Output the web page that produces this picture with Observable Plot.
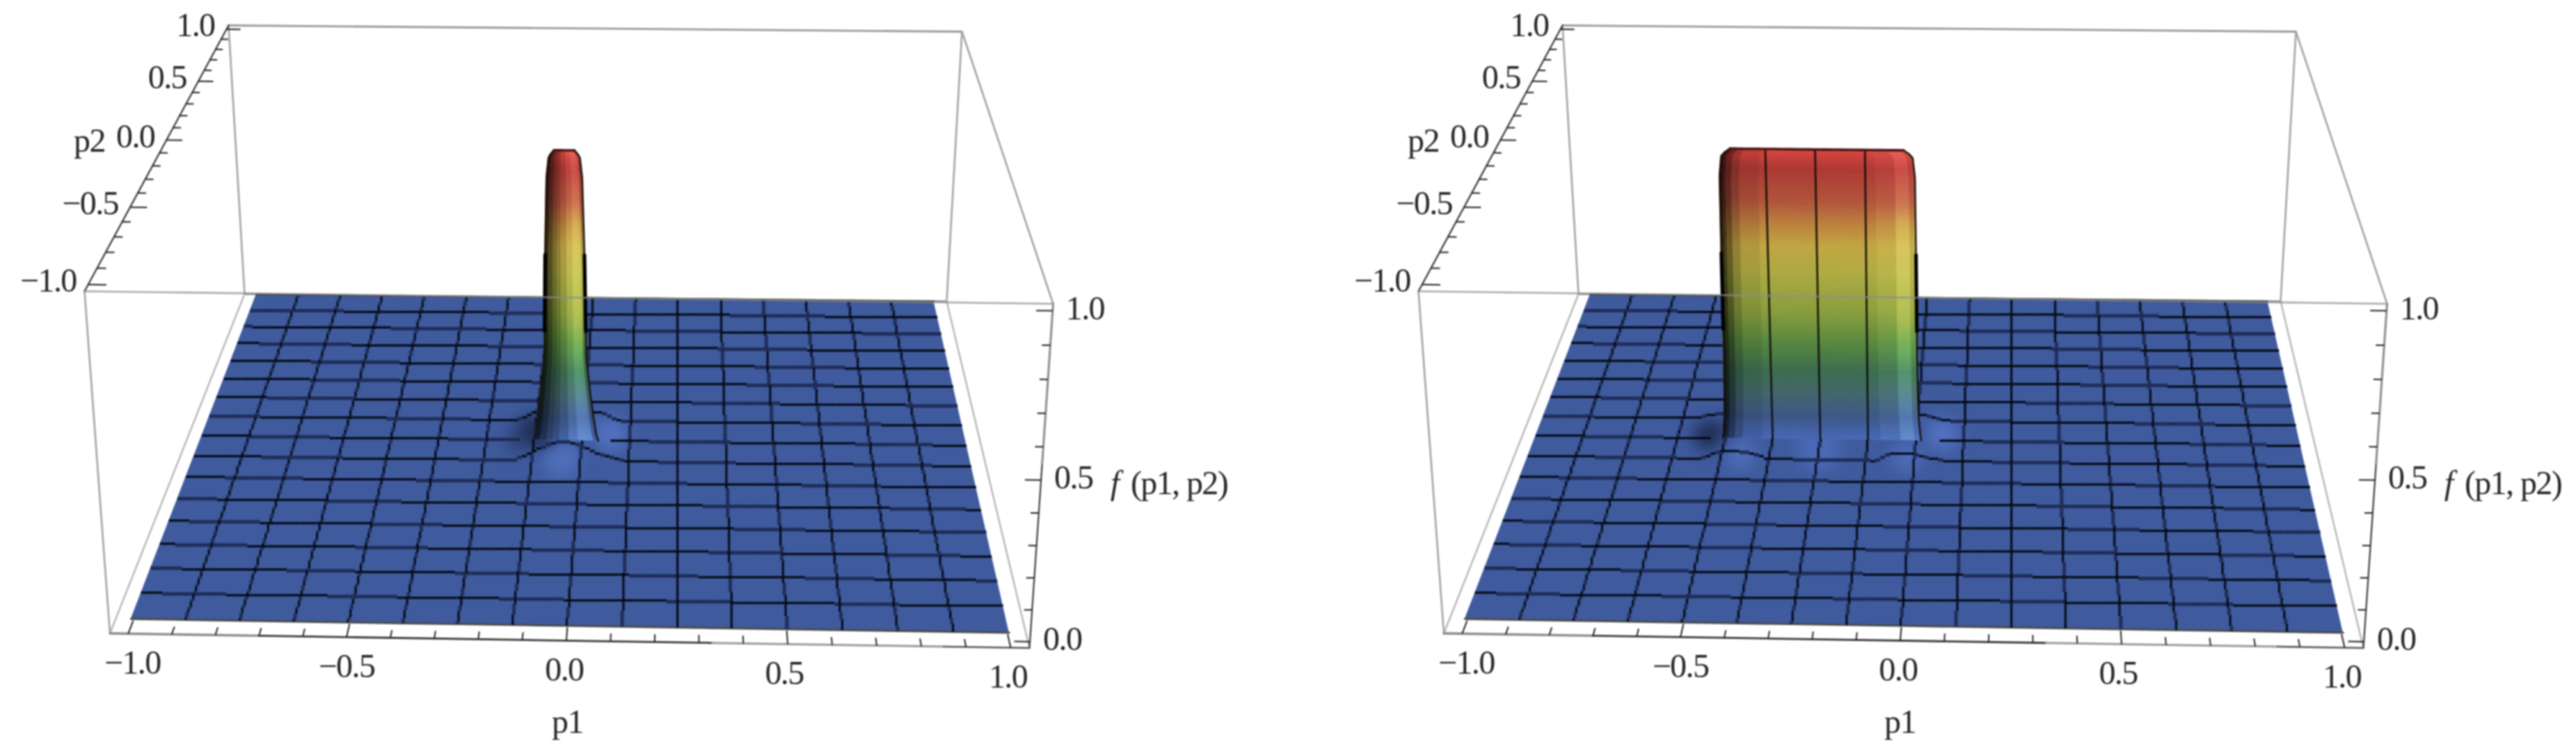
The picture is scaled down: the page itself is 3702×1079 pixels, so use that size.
<!DOCTYPE html>
<html><head><meta charset="utf-8">
<script src="https://cdn.jsdelivr.net/npm/d3@7"></script>
<script src="https://cdn.jsdelivr.net/npm/@observablehq/plot@0.6"></script>
<style>
html,body{margin:0;padding:0;background:#fff;overflow:hidden}
#chart{display:flex;width:3702px;height:1079px}
#chart svg{display:block;filter:blur(0.8px);overflow:hidden}
#chart svg text{letter-spacing:-1.6px}
g[aria-label="dot"]{filter:blur(11px)}
</style></head><body><div id="chart"></div>
<script>
// ---- tick values and labels
const p1Ticks = [-1,-0.9,-0.8,-0.7,-0.6,-0.5,-0.4,-0.3,-0.2,-0.1,0,0.1,0.2,0.3,0.4,0.5,0.6,0.7,0.8,0.9,1];
const p2Ticks = p1Ticks;
const zTicks = [0,0.1,0.2,0.3,0.4,0.5,0.6,0.7,0.8,0.9,1];
const p1Labels = [[-1,"−1.0",6],[-0.5,"−0.5",0],[0,"0.0",-3],[0.5,"0.5",-5],[1,"1.0",-4]];
const p2Labels = [[-1,"−1.0"],[-0.5,"−0.5"],[0,"0.0"],[0.5,"0.5"],[1,"1.0"]];
const zLabels = [[0,"0.0"],[0.5,"0.5"],[1,"1.0"]];
// ---- mesh positions: 15 interior lines per side
const meshValues = [-1,-0.875,-0.75,-0.625,-0.5,-0.375,-0.25,-0.125,0,0.125,0.25,0.375,0.5,0.625,0.75,0.875,1];
// ---- height colours read from the tall wall
const zStops = [0,0.075,0.157,0.24,0.34,0.45,0.58,0.67,0.745,0.82,0.93,0.985,1];
const wallColors = ["#4a6ab8","#3f5a8c","#46696f","#3e7050","#5c8c42","#8fa23f","#b3ae45","#c5aa45","#c0843f","#b5573d","#b03a36","#d8463f","#e04b47"];
// ---- wall silhouette: how far the edge leaves the nominal p1 limit at each height
const zEdge = [0,0.02,0.08,0.16,0.3,0.66,0.91,0.98,1];
const flareNarrow = [0.035,0.03,0.023,0.015,0.004,0,-0.005,-0.011,-0.024];
const flareWide = [0.012,0.01,0.006,0.004,0.002,0,-0.002,-0.008,-0.03];
// ---- side shading across the wall (fraction of width, alpha)
const shadeNarrow = {f:[0,0.1,0.2,0.3,0.4,0.55,0.7,0.85,0.93,1], dark:[0.8,0.65,0.45,0.3,0.2,0.05,0,0,0.1,0.35], light:[0,0,0,0,0,0.1,0.25,0.45,0.3,0]};
const shadeWide = {f:[0,0.015,0.03,0.06,0.1,0.2,0.5,0.8,0.9,0.97,1], dark:[0.85,0.75,0.6,0.35,0.15,0.05,0,0.03,0,0,0.2], light:[0,0,0,0,0,0,0,0,0.2,0.45,0]};
// ---- surface lift along the mesh rows next to the wall: [p1, f]
const narrowLift = {"-0.125":[[-0.17,0],[-0.118,0.034],[-0.071,0.063],[-0.04,0.07],[-0.01,0.06],[0.054,0.022],[0.12,0]],
                    "0.125":[[-0.175,0],[-0.125,0.03],[0.048,0.03],[0.098,0]]};
const wideLift = {"-0.125":[[-0.55,0],[-0.505,0.025],[-0.435,0.025],[-0.375,0],[-0.1,0],[-0.06,0.025],[0,0.025],[0.08,0]],
                  "0.125":[[-0.6,0],[-0.51,0.02],[0.03,0.02],[0.08,0]]};
// ---- soft light/dark patches on the floor: p1, p2, radius, colour, opacity
const narrowGlow = [[-0.05,-0.11,28,"#5676c8",0.7],[0.075,0.04,24,"#5878cc",0.75],[-0.13,0.06,24,"#1c2748",0.8],[-0.17,-0.01,18,"#2a3866",0.6],[-0.1,0.03,14,"#141c38",0.7]];
const wideGlow = [[-0.45,-0.1,22,"#5676c8",0.65],[-0.02,-0.1,22,"#5676c8",0.65],[-0.25,-0.06,32,"#4f6fc2",0.7],[0.07,0.04,24,"#5878cc",0.75],[-0.55,0.01,20,"#1c2748",0.8],[-0.53,0.05,14,"#141c38",0.6]];
// ---- box corners on screen for the lower and upper planes of the frame
const planeLow = [[157.5,909.5],[1479,930.5],[1360,432.5],[351,422]];
const planeHigh = [[121,418],[1513,436],[1382,45],[328,36]];
const padP1 = 1.042, padP2 = 1.04, zLow = -0.02, zHigh = 1.02, depthBias = 1.05, rasterStep = 3.7;

function quadMap(q){
  const [[x0,y0],[x1,y1],[x2,y2],[x3,y3]] = q;
  const sx=x0-x1+x2-x3, sy=y0-y1+y2-y3, dx1=x1-x2, dx2=x3-x2, dy1=y1-y2, dy2=y3-y2;
  const den=dx1*dy2-dx2*dy1, g=(sx*dy2-dx2*sy)/den, h=(dx1*sy-sx*dy1)/den;
  const a=x1-x0+g*x1, b=x3-x0+h*x3, c=x0, d=y1-y0+g*y1, e=y3-y0+h*y3, f=y0;
  return (u,v)=>{const w=g*u+h*v+1; return [(a*u+b*v+c)/w,(d*u+e*v+f)/w];};
}
const mapLow = quadMap(planeLow), mapHigh = quadMap(planeHigh);
function proj(p1,p2,z){
  const u=(p1+padP1)/(2*padP1), v=(p2+padP2)/(2*padP2);
  const n=(z-zLow)/(zHigh-zLow), t=n/(n+(1-n)*depthBias);
  const A=mapLow(u,v), B=mapHigh(u,v);
  return [A[0]+(B[0]-A[0])*t, A[1]+(B[1]-A[1])*t];
}
const liftFn = tbl => { if(!tbl) return ()=>0; return d3.scaleLinear(tbl.map(d=>d[0]),tbl.map(d=>d[1])).clamp(true); };

// one sampled 3D polyline, turned into raster-like flat segments
function rasterSegs(pts,horizontal){
  const black=[],navy=[];
  for(let i=0;i<pts.length-1;i++){
    const a=pts[i],b=pts[i+1];
    if(!a||!b) continue;
    const m=horizontal?(a[1]+b[1])/2:(a[0]+b[0])/2, v=m/rasterStep, r=Math.abs(v-Math.round(v));
    const mid=r>0.3, q=(mid?Math.floor(v)+0.5:Math.round(v))*rasterStep;
    const s=horizontal?{x1:a[0],x2:b[0],y1:q,y2:q}:{x1:q,x2:q,y1:a[1],y2:b[1]};
    (mid?navy:black).push(s);
  }
  return {black,navy};
}
const sampleP = d3.range(-1,1.0001,0.0125);
function meshMarks(rows,cols){
  const B=[],N=[];
  const add=s=>{B.push(...s.black);N.push(...s.navy);};
  rows.forEach(r=>add(rasterSegs(r,true)));
  cols.forEach(c=>add(rasterSegs(c,false)));
  return [
    Plot.link(N,{x1:"x1",y1:"y1",x2:"x2",y2:"y2",stroke:"#1f2c57",strokeWidth:5,strokeLinecap:"butt"}),
    Plot.link(B,{x1:"x1",y1:"y1",x2:"x2",y2:"y2",stroke:"#070b18",strokeWidth:3.3,strokeLinecap:"butt"})
  ];
}
const seg=(pts,stroke,w,op=1)=>Plot.line(pts,{x:d=>d[0],y:d=>d[1],stroke,strokeWidth:w,strokeOpacity:op});
const edge=(a,b,stroke,w=2.4,op=1)=>seg([proj(...a),proj(...b)],stroke,w,op);

function panel(cfg){
  const {width,wallL,wallR,wallP2,flare,shade,lifts,gaps,glow,wallMesh}=cfg;
  const flareFn=d3.scaleLinear(zEdge,flare);
  const wp=(f,z)=>{const e=flareFn(z);const L=wallL-e,R=wallR+e;return proj(L+(R-L)*f,wallP2,z);};
  const zs=d3.range(0,1.0001,0.0125);
  // floor
  const fl=[-1,1].map(p=>{const a=proj(p,-1,0),b=proj(p,1,0);return {x1:a[0],y1:a[1],x2:b[0],y2:b[1]};});
  // mesh
  const rowsBack=[],rowsFront=[],colsBack=[],colsFront=[];
  meshValues.slice(1,16).forEach(v=>{
    const lift=liftFn(lifts[String(v)]), gap=gaps[String(v)];
    const pts=sampleP.map(p=>(gap&&p>gap[0]&&p<gap[1])?null:proj(p,v,lift(p)));
    (v>=0?rowsBack:rowsFront).push(pts);
    const ps=sampleP.filter(q=>q<wallP2), pb=sampleP.filter(q=>q>=wallP2-0.0125);
    colsFront.push(ps.map(q=>proj(v,q,0)));
    colsBack.push(pb.map(q=>proj(v,q,0)));
  });
  // wall bands
  const bands=[];
  zs.slice(0,-1).forEach((z,i)=>{
    const z2=zs[i+1];
    const a=wp(0,z),b=wp(0,z2),c=wp(1,z),d=wp(1,z2);
    bands.push({id:i,c:z,x1:a[0],y1:a[1],x2:b[0],y2:b[1]},{id:i,c:z,x1:c[0],y1:c[1],x2:d[0],y2:d[1]});
  });
  const colMarks=[];
  shade.f.slice(0,-1).forEach((f,j)=>{
    const f2=shade.f[j+1];
    const strip=zs.map(z=>{const a=wp(f,z),b=wp(f2,z);return {x1:a[0],y1:a[1],x2:b[0],y2:b[1]};});
    const al=(shade.dark[j]+shade.dark[j+1])/2, lt=(shade.light[j]+shade.light[j+1])/2;
    if(al>0) colMarks.push(Plot.area(strip,{x1:"x1",y1:"y1",x2:"x2",y2:"y2",fill:"#000",fillOpacity:al}));
    if(lt>0) colMarks.push(Plot.area(strip,{x1:"x1",y1:"y1",x2:"x2",y2:"y2",fill:"#fff",fillOpacity:lt,mixBlendMode:"overlay"}));
  });
  const edgePts=f=>zs.map(z=>wp(f,z));
  const thick=f=>zs.filter(z=>z>0.38&&z<0.66).map(z=>wp(f,z));
  const topPts=d3.range(0,1.0001,0.05).map(f=>wp(f,1));
  const wallLines=wallMesh.map(p=>seg(zs.map(z=>proj(p,wallP2,z)),"#0d0d0a",2.8,0.9));

  // frame
  const X=padP1,Y=padP2;
  const gray="#a2a2a2";
  const back=[
    edge([-X,Y,zHigh],[X,Y,zHigh],"#999",2.8),
    edge([-X,Y,zHigh],[-X,Y,zLow],gray,2.6),
    edge([X,Y,zHigh],[X,Y,zLow],gray,2.6),
    edge([-X,Y,zLow],[X,Y,zLow],"#8a8a8a",2.4),
    edge([-X,-Y,zLow],[-X,Y,zLow],"#b5b5b5",2.4),
    edge([X,-Y,zLow],[X,Y,zLow],"#b5b5b5",2.4),
    edge([-X,-Y,zHigh],[-X,-Y,zLow],gray,2.6),
    edge([X,-Y,zHigh],[X,Y,zHigh],gray,2.6)
  ];
  const axesLines=[
    edge([-X,-Y,zHigh],[-X,Y,zHigh],"#333",2.2),
    edge([X,-Y,zLow],[X,-Y,0.55],"#3a3a3a",2.2),
    edge([X,-Y,0.55],[X,-Y,zHigh],"#8a8a8a",3),
    edge([-X,-Y,zLow],[-0.7,-Y,zLow],"#8a8a8a",3.4),
    edge([-0.7,-Y,zLow],[0.33,-Y,zLow],"#383838",2.8),
    edge([0.33,-Y,zLow],[0.85,-Y,zLow],"#999",3),
    edge([0.85,-Y,zLow],[X,-Y,zLow],"#555",2.6),
    edge([-X,-Y,zHigh],[X,-Y,zHigh],"#8c8c8c",2.6,0.75)
  ];
  // ticks
  const tk=[];
  const big=v=>Math.abs(v*2-Math.round(v*2))<1e-6;
  p1Ticks.forEach(v=>{const a=proj(v,-Y,zLow),b=proj(v,-Y+(big(v)?0.062:0.036),zLow);tk.push({x1:a[0],y1:a[1],x2:b[0],y2:b[1]});});
  p2Ticks.forEach(v=>{const a=proj(-X,v,zHigh),b=proj(-X+(big(v)?0.04:0.02),v,zHigh);tk.push({x1:a[0],y1:a[1],x2:b[0],y2:b[1]});});
  zTicks.forEach(v=>{const a=proj(X,-Y,v),b=proj(X-(big(v)?0.035:0.018),-Y,v);tk.push({x1:a[0],y1:a[1],x2:b[0],y2:b[1]});});
  // text
  const font={fontFamily:"'Liberation Serif',serif",fontSize:48,fill:"#262626"};
  const t1=p1Labels.map(([v,s,dx])=>{const a=proj(v,-Y,zLow);return {x:a[0]+dx,y:a[1]+42,s};});
  const t2=p2Labels.map(([v,s])=>{const a=proj(-X,v,zHigh);return {x:a[0]-17,y:a[1]-5,s};});
  const t3=zLabels.map(([v,s])=>{const a=proj(X,-Y,v);return {x:a[0]+19,y:a[1]-3,s};});
  const p2T=proj(-X,0,zHigh);
  return Plot.plot({
    width,height:1079,margin:0,
    x:{domain:[0,width],range:[0,width],axis:null},
    y:{domain:[0,1079],range:[0,1079],axis:null},
    color:{type:"linear",domain:zStops,range:wallColors},
    marks:[
      ...back,
      Plot.area(fl,{x1:"x1",y1:"y1",x2:"x2",y2:"y2",fill:"#3f5b9d"}),
      ...glow.map(([p,q,r,c,o])=>{const a=proj(p,q,0);return Plot.dot([a],{x:d=>d[0],y:d=>d[1],r,fill:c,fillOpacity:o,stroke:null});}),
      ...meshMarks(rowsBack,colsBack),
      seg(meshValues.map(p=>proj(p,1,0)),"#3a3a3a",2.4),
      seg(meshValues.map(p=>proj(p,-1,0)),"#4a4a4a",3),
      Plot.area(bands,{x1:"x1",y1:"y1",x2:"x2",y2:"y2",z:"id",fill:"c",stroke:"c",strokeWidth:1}),
      ...colMarks,
      ...wallLines,
      seg(edgePts(0),"#17100a",2.4), seg(edgePts(1),"#17100a",2.4),
      seg(thick(0),"#000",5), seg(thick(1),"#000",5),
      seg(topPts,"#4a1414",3.6),
      ...meshMarks(rowsFront,colsFront),
      ...axesLines,
      Plot.link(tk,{x1:"x1",y1:"y1",x2:"x2",y2:"y2",stroke:"#222",strokeWidth:2}),
      Plot.text(t1,{x:"x",y:"y",text:"s",...font}),
      Plot.text(t2,{x:"x",y:"y",text:"s",textAnchor:"end",...font}),
      Plot.text(t3,{x:"x",y:"y",text:"s",textAnchor:"start",...font}),
      Plot.text([{x:cfg.p1X,y:1037,s:"p1"}],{x:"x",y:"y",text:"s",...font}),
      Plot.text([{x:128,y:p2T[1]+1,s:"p2"}],{x:"x",y:"y",text:"s",textAnchor:"middle",...font}),
      Plot.text([{x:1601,y:694,s:"f"}],{x:"x",y:"y",text:"s",fontStyle:"italic",...font}),
      Plot.text([{x:1694,y:694,s:"(p1, p2)"}],{x:"x",y:"y",text:"s",...font})
    ]
  });
}
const root=document.getElementById("chart");
root.append(panel({width:1917,p1X:815,wallL:-0.092,wallR:0.008,wallP2:0,flare:flareNarrow,shade:shadeNarrow,lifts:narrowLift,
  gaps:{"0":[-0.155,0.07]},glow:narrowGlow,wallMesh:[]}));
root.append(panel({width:1785,p1X:813,wallL:-0.494,wallR:0.002,wallP2:0,flare:flareWide,shade:shadeWide,lifts:wideLift,
  gaps:{"0":[-0.53,0.06]},glow:wideGlow,wallMesh:[-0.375,-0.25,-0.125]}));
</script></body></html>
